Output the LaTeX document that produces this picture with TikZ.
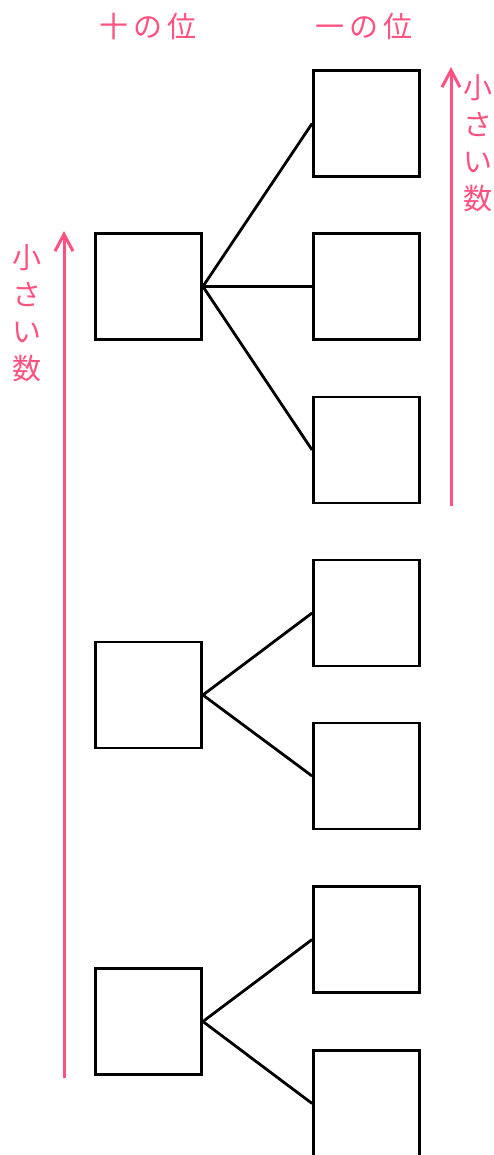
\documentclass[tikz,border=0pt]{standalone}
\usepackage{fontspec}
\newfontfamily\cjk{Noto Sans CJK JP}
\usetikzlibrary{arrows.meta}
\definecolor{pk}{RGB}{255,82,128}
\tikzset{
  box/.style={draw=black,line width=2.8pt,minimum size=106pt,inner sep=0pt,fill=white},
  conn/.style={draw=black,line width=2.8pt},
  parrow/.style={draw=pk,line width=3pt,-{Straight Barb[length=17pt,width=18pt,line width=3pt]}},
  head/.style={text=pk,font=\cjk\fontsize{29}{29}\selectfont,inner sep=0pt},
  vtext/.style={text=pk,font=\cjk\fontsize{29}{37}\selectfont,align=center,inner sep=0pt}
}
\begin{document}
\begin{tikzpicture}[x=1pt,y=-1pt]
\useasboundingbox (0,0) rectangle (494,1155);
\clip (0,0) rectangle (494,1155);
\node[head] (h10) at (148,26) {十\hspace{5pt}の\hspace{5pt}位};
\node[head] (h1) at (364,26) {一\hspace{5pt}の\hspace{5pt}位};
\node[box] (L1) at (148.5,286.5) {};
\node[box] (L2) at (148.5,695) {};
\node[box] (L3) at (148.5,1021.5) {};
\node[box] (R1) at (366.5,123.5) {};
\node[box] (R2) at (366.5,286.5) {};
\node[box] (R3) at (366.5,450) {};
\node[box] (R4) at (366.5,613) {};
\node[box] (R5) at (366.5,776) {};
\node[box] (R6) at (366.5,939.5) {};
\node[box] (R7) at (366.5,1103.5) {};
\draw[conn] (L1.east) -- (R1.west);
\draw[conn] (L1.east) -- (R2.west);
\draw[conn] (L1.east) -- (R3.west);
\draw[conn] (L2.east) -- (R4.west);
\draw[conn] (L2.east) -- (R5.west);
\draw[conn] (L3.east) -- (R6.west);
\draw[conn] (L3.east) -- (R7.west);
\coordinate (a1s) at (64,1078);
\coordinate (a1e) at (64,231);
\coordinate (a2s) at (451,506);
\coordinate (a2e) at (451,67);
\draw[parrow] (a1s) -- (a1e);
\draw[parrow] (a2s) -- (a2e);
\node[vtext] (v1) at (27,313) {小\\さ\\い\\数};
\node[vtext] (v2) at (478,143) {小\\さ\\い\\数};
\end{tikzpicture}
\end{document}
